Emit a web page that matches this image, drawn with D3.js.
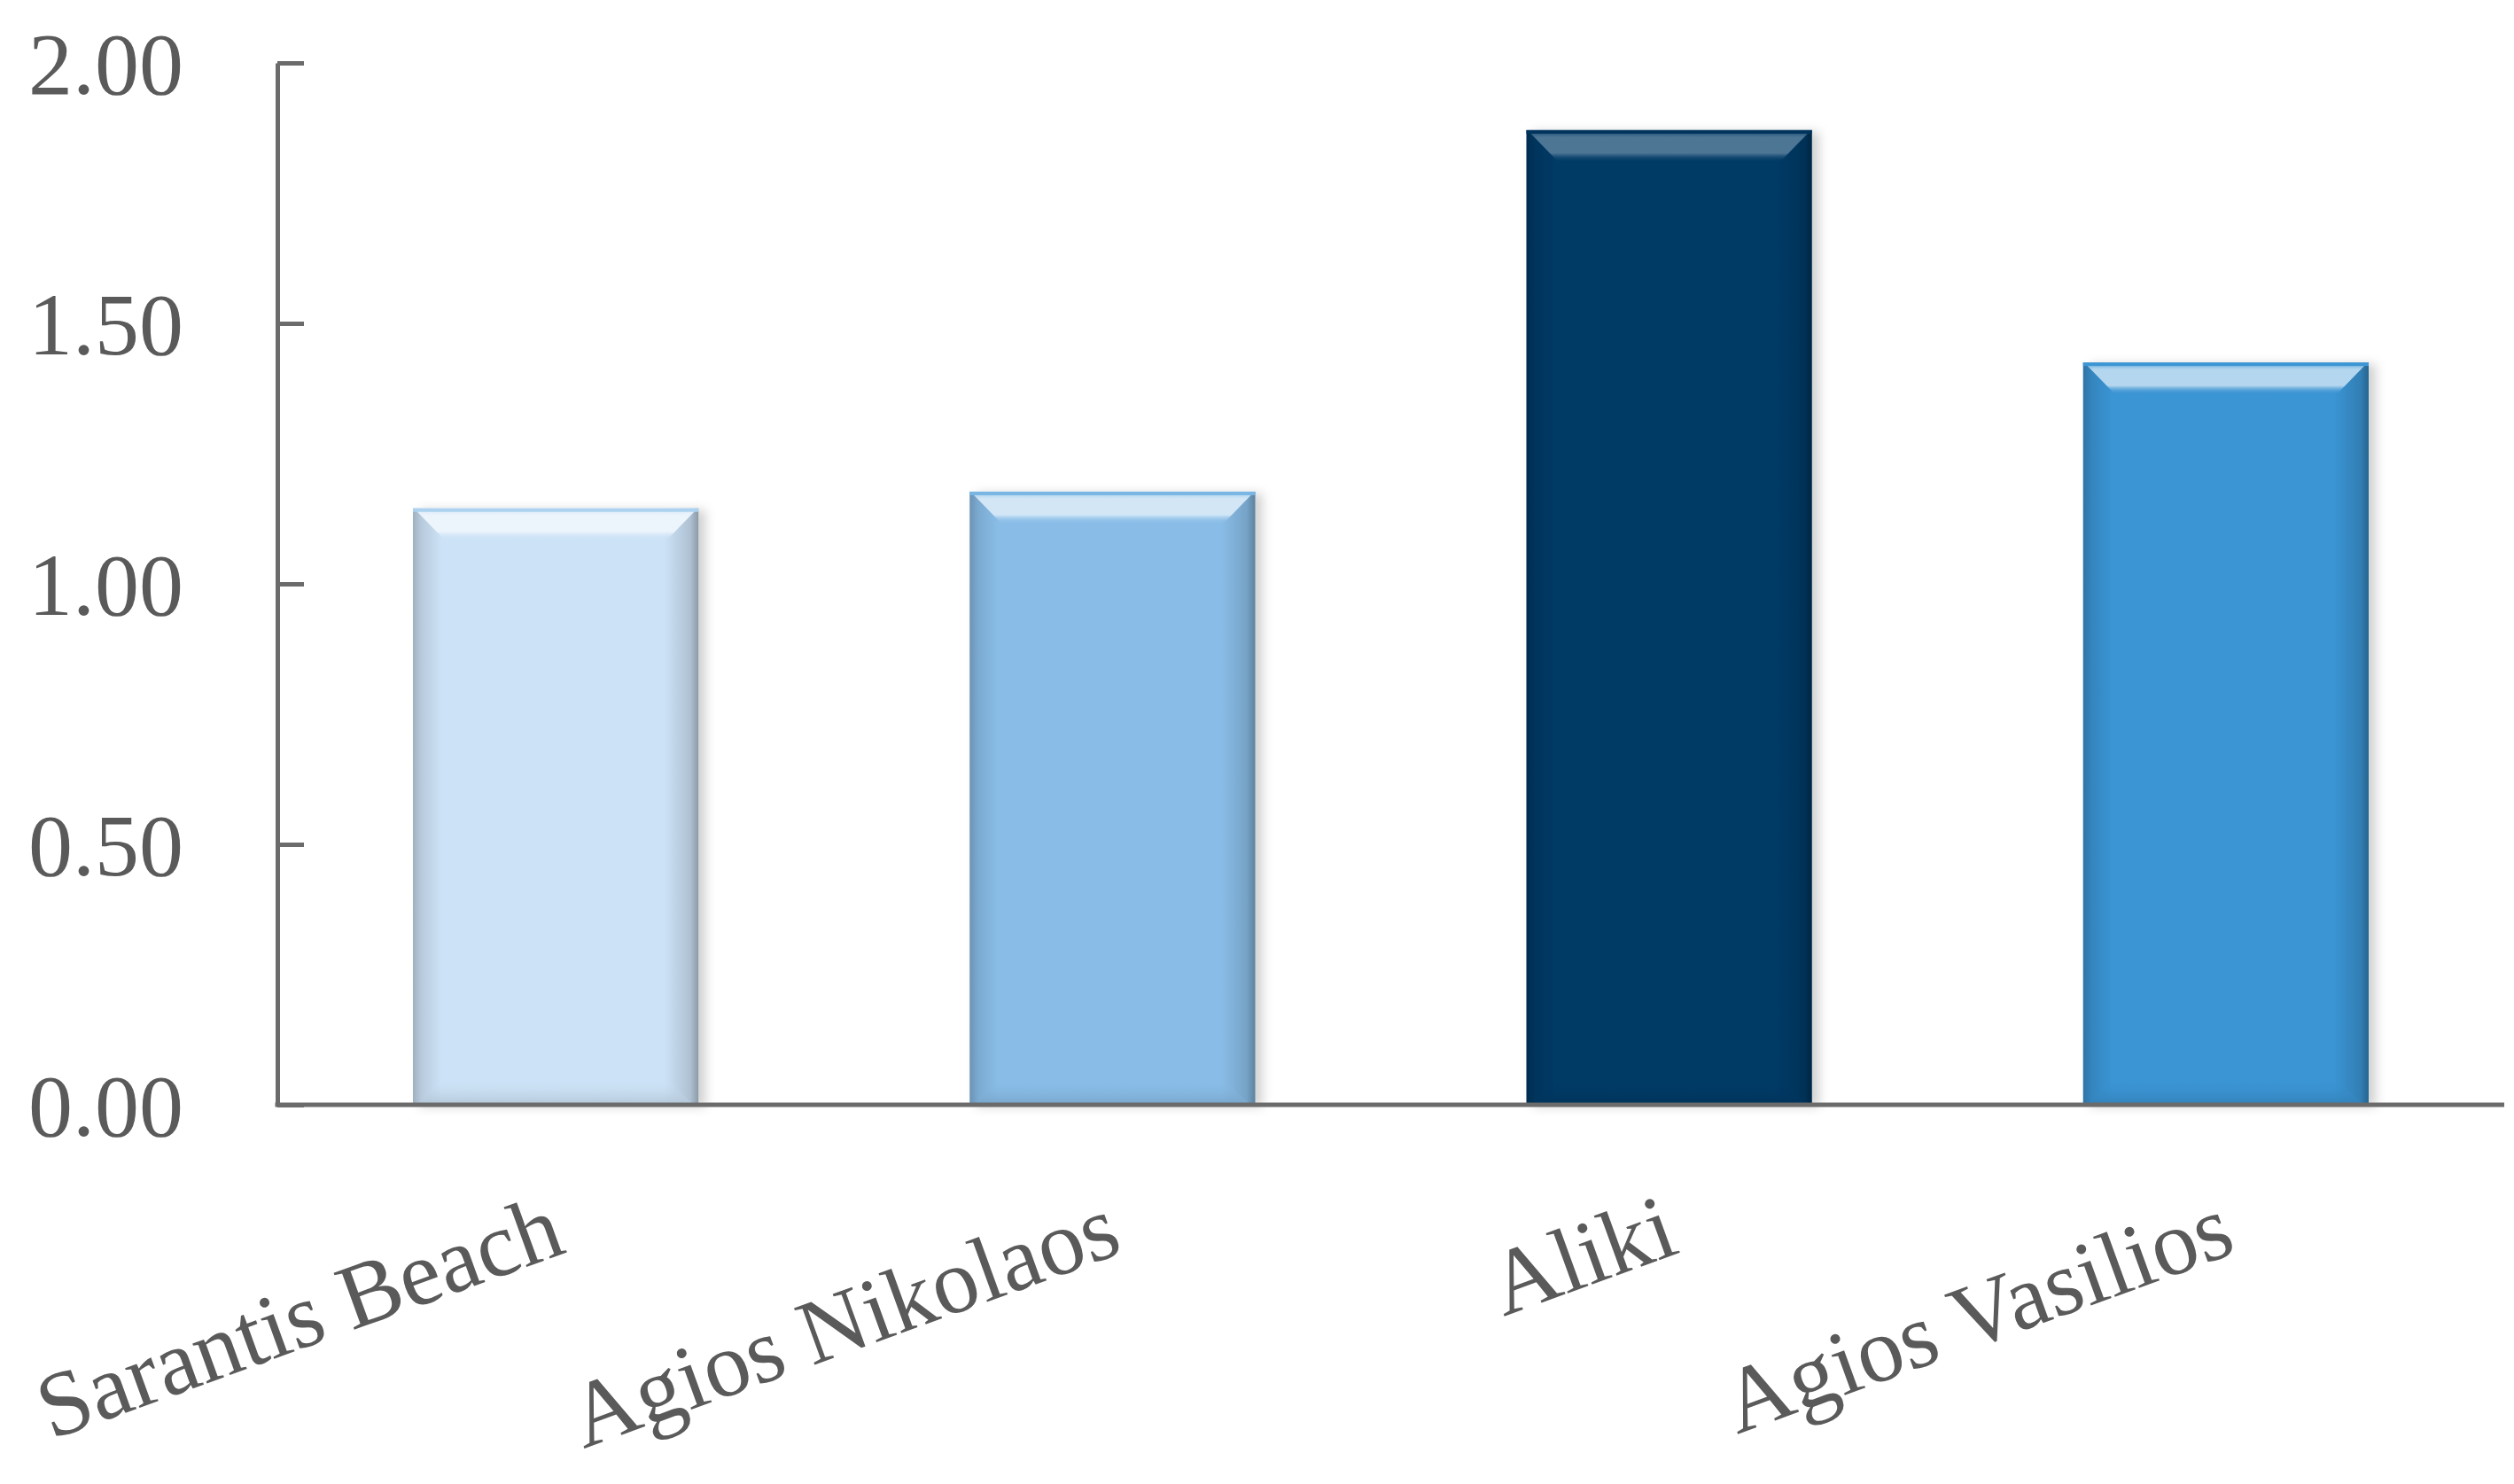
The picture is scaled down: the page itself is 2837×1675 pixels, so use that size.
<!DOCTYPE html>
<html>
<head>
<meta charset="utf-8">
<script src="https://cdn.jsdelivr.net/npm/d3@7"></script>
<style>
  html, body { margin: 0; padding: 0; background: #ffffff; }
  svg { display: block; }
</style>
</head>
<body>
<svg id="chart" width="2837" height="1675"></svg>
<script>
// ---- data ----
const categories = ["Sarantis Beach", "Agios Nikolaos", "Aliki", "Agios Vasilios"];
const values = [1.145, 1.177, 1.871, 1.425];
const barColors = ["#cce2f6", "#89bde7", "#003a66", "#3a94d3"];
const yTicks = [0, 0.5, 1.0, 1.5, 2.0];
const yTickLabels = ["0.00", "0.50", "1.00", "1.50", "2.00"];

// ---- layout ----
const plotLeft = 313, plotRight = 2826, plotTop = 71, plotBottom = 1247;
const axisColor = "#6b6b6b";
const textColor = "#5a5a5a";
const fontFamily = "'Liberation Serif', 'Times New Roman', serif";

const svg = d3.select("#chart");

const x = d3.scaleBand().domain(categories).range([plotLeft, plotRight])
  .paddingInner(0.487).paddingOuter(0.2435);
const y = d3.scaleLinear().domain([0, 2]).range([plotBottom, plotTop]);

// drop shadow filter
const defs = svg.append("defs");
const f = defs.append("filter").attr("id", "shadow")
  .attr("x", "-10%").attr("y", "-10%").attr("width", "130%").attr("height", "120%");
f.append("feDropShadow").attr("dx", 8).attr("dy", 2).attr("stdDeviation", 6)
  .attr("flood-color", "#000").attr("flood-opacity", 0.18);

categories.forEach((c, i) => {
  const base = barColors[i];
  const dark = d3.interpolateRgb(base, "#000")(0.22);
  const darkR = d3.interpolateRgb(base, "#000")(0.32);
  const g = defs.append("linearGradient").attr("id", "hg" + i)
    .attr("x1", "0").attr("x2", "1").attr("y1", "0").attr("y2", "0");
  g.append("stop").attr("offset", "0").attr("stop-color", dark);
  g.append("stop").attr("offset", "0.03").attr("stop-color", d3.interpolateRgb(base, "#000")(0.1));
  g.append("stop").attr("offset", "0.1").attr("stop-color", base);
  g.append("stop").attr("offset", "0.88").attr("stop-color", base);
  g.append("stop").attr("offset", "0.97").attr("stop-color", d3.interpolateRgb(base, "#000")(0.14));
  g.append("stop").attr("offset", "1").attr("stop-color", darkR);

  const tg = defs.append("linearGradient").attr("id", "tg" + i)
    .attr("x1", "0").attr("x2", "0").attr("y1", "0").attr("y2", "1");
  const hi = d3.interpolateRgb(base, "#ffffff")(i === 2 ? 0.3 : 0.62);
  tg.append("stop").attr("offset", "0").attr("stop-color", d3.interpolateRgb(base, "#ffffff")(i === 2 ? 0.15 : 0.35));
  tg.append("stop").attr("offset", "0.15").attr("stop-color", hi);
  tg.append("stop").attr("offset", "0.7").attr("stop-color", hi);
  tg.append("stop").attr("offset", "1").attr("stop-color", base).attr("stop-opacity", 0.0);

  const bg = defs.append("linearGradient").attr("id", "bg" + i)
    .attr("x1", "0").attr("x2", "0").attr("y1", "0").attr("y2", "1");
  bg.append("stop").attr("offset", "0").attr("stop-color", base).attr("stop-opacity", 0);
  bg.append("stop").attr("offset", "1").attr("stop-color", d3.interpolateRgb(base, "#000")(0.12));
});

const data = categories.map((c, i) => ({ c, v: values[i], i }));

const bars = svg.append("g").selectAll("g").data(data).join("g");

bars.append("rect")
  .attr("x", d => x(d.c))
  .attr("y", d => y(d.v))
  .attr("width", x.bandwidth())
  .attr("height", d => y(0) - y(d.v))
  .attr("fill", d => `url(#hg${d.i})`)
  .attr("filter", "url(#shadow)");

const bev = 30;
bars.append("path")
  .attr("d", d => {
    const x0 = x(d.c), x1 = x0 + x.bandwidth(), yt = y(d.v);
    return `M${x0 + 4},${yt + 3} L${x1 - 4},${yt + 3} L${x1 - bev - 6},${yt + bev + 6} L${x0 + bev + 6},${yt + bev + 6} Z`;
  })
  .attr("fill", d => `url(#tg${d.i})`);

bars.append("rect")
  .attr("x", d => x(d.c))
  .attr("y", d => y(d.v))
  .attr("width", x.bandwidth())
  .attr("height", 4)
  .attr("fill", d => d3.interpolateRgb(barColors[d.i], d.i === 2 ? "#000" : "#4aa0d8")(d.i === 2 ? 0.1 : 0.25));

bars.append("path")
  .attr("d", d => {
    const x0 = x(d.c), x1 = x0 + x.bandwidth(), yb = y(0);
    return `M${x0 + bev + 6},${yb - bev} L${x1 - bev - 6},${yb - bev} L${x1 - 6},${yb} L${x0 + 6},${yb} Z`;
  })
  .attr("fill", d => `url(#bg${d.i})`);

// ---- y axis ----
const yAxis = d3.axisLeft(y)
  .tickValues(yTicks)
  .tickFormat((d, i) => yTickLabels[i])
  .tickSizeInner(-30)
  .tickSizeOuter(0)
  .tickPadding(106);

const gy = svg.append("g").attr("transform", `translate(${plotLeft},0)`).call(yAxis);
gy.select(".domain").attr("stroke", axisColor).attr("stroke-width", 5);
gy.selectAll(".tick line").attr("stroke", axisColor).attr("stroke-width", 5);
gy.selectAll(".tick text")
  .attr("fill", textColor)
  .attr("font-family", fontFamily)
  .attr("font-size", 100)
  .attr("dy", "0.34em");

// ---- x axis ----
const xAxis = d3.axisBottom(x).tickSize(0).tickSizeOuter(0);
const gx = svg.append("g").attr("transform", `translate(0,${plotBottom})`).call(xAxis);
gx.select(".domain").attr("stroke", axisColor).attr("stroke-width", 5)
  .attr("d", `M${plotLeft - 2.5},0H${plotRight}`);
gx.selectAll(".tick text")
  .attr("fill", textColor)
  .attr("font-family", fontFamily)
  .attr("font-size", 104)
  .attr("text-anchor", "end")
  .attr("x", 0).attr("y", 0).attr("dy", 0)
  .attr("transform", "translate(14,166) rotate(-20)");
</script>
</body>
</html>
